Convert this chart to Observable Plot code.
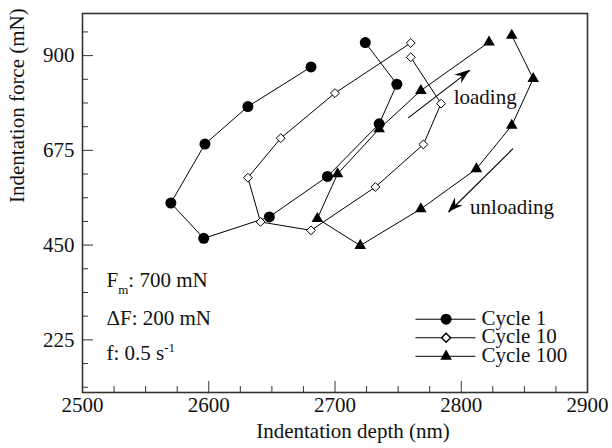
<!DOCTYPE html>
<html><head><meta charset="utf-8">
<script src="https://cdn.jsdelivr.net/npm/d3@7"></script>
<script src="https://cdn.jsdelivr.net/npm/@observablehq/plot@0.6"></script>
<style>body{margin:0;background:#fff}#chart{width:612px;height:448px}</style>
</head><body><div id="chart"></div>
<script>
// Cycle 1 (filled circles)
const cycle1Depth = [2681, 2631, 2597, 2570, 2596, 2648, 2694, 2735, 2749, 2724];
const cycle1Force = [873, 779, 690, 550, 466, 517, 613, 738, 832, 931];
// Cycle 10 (open diamonds)
const cycle10Depth = [2760, 2784, 2770, 2732, 2681, 2641, 2631, 2657, 2700, 2760];
const cycle10Force = [896, 786, 689, 588, 485, 505, 610, 704, 811, 930];
// Cycle 100 (filled triangles)
const cycle100Depth = [2840, 2857, 2840, 2812, 2768, 2720, 2686, 2702, 2735, 2768, 2822];
const cycle100Force = [948, 845, 734, 631, 536, 449, 513, 619, 726, 817, 932];

const seriesNames = ["Cycle 1", "Cycle 10", "Cycle 100"];
const xMajorTicks = [2500, 2600, 2700, 2800, 2900];
const yMajorTicks = [225, 450, 675, 900];

// annotations (data coordinates)
const arrows = [
  {x1: 2758, y1: 752, x2: 2807, y2: 865},
  {x1: 2841, y1: 679, x2: 2790, y2: 528}
];
const directionLabels = [
  {x: 2794, y: 800, text: "loading"},
  {x: 2807, y: 539, text: "unloading"}
];
const paramLabels = [
  {x: 2519, y: 366, text: "Fm: 700 mN"},
  {x: 2519, y: 276, text: "ΔF: 200 mN"},
  {x: 2519, y: 193, text: "f: 0.5 s-1"}
];
const legendY = [274, 230, 186];
const legendX = {x1: 2764, x2: 2811, mark: 2788, text: 2816};

const mk = (name, xs, ys) => xs.map((x, i) => ({cycle: name, depth: x, force: ys[i]}));
const c1 = mk("Cycle 1", cycle1Depth, cycle1Force);
const c10 = mk("Cycle 10", cycle10Depth, cycle10Force);
const c100 = mk("Cycle 100", cycle100Depth, cycle100Force);

const legendLines = seriesNames.flatMap((n, i) => [
  {cycle: n, x: legendX.x1, y: legendY[i]}, {cycle: n, x: legendX.x2, y: legendY[i]}
]);
const legendPts = seriesNames.map((n, i) => ({cycle: n, x: legendX.mark, y: legendY[i]}));

const FONT = "Liberation Serif, Times New Roman, serif";
const axisColor = "#333";
const TXT = 21;

const chart = Plot.plot({
  width: 612, height: 448,
  marginLeft: 82, marginRight: 25, marginTop: 13, marginBottom: 56,
  style: {fontFamily: FONT, fontSize: "21px", color: "#111", background: "#fff"},
  x: {domain: [2500, 2900]},
  y: {domain: [100, 1000]},
  marks: [
    Plot.axisX({ticks: d3.range(2525, 2900, 25).filter(v => v % 100 !== 0), tickSize: -6, text: null, label: null, stroke: axisColor}),
    Plot.axisX({ticks: xMajorTicks, tickSize: -11, text: null, label: null, stroke: axisColor}),
    Plot.axisX({ticks: xMajorTicks, tickSize: 0, tickPadding: 5, tickFormat: d => String(d), label: null, fontSize: 21}),
    Plot.axisY({ticks: d3.range(112.5, 1000, 56.25).filter(v => !yMajorTicks.includes(v)), tickSize: -6, text: null, label: null, stroke: axisColor}),
    Plot.axisY({ticks: yMajorTicks, tickSize: -11, text: null, label: null, stroke: axisColor}),
    Plot.axisY({ticks: yMajorTicks, tickSize: 0, tickPadding: 8, label: null, fontSize: 21}),
    Plot.frame({stroke: axisColor, strokeWidth: 1.6}),
    Plot.text(["Indentation depth (nm)"], {frameAnchor: "bottom", dx: 18, dy: 45, fontSize: TXT}),
    Plot.text(["Indentation force (mN)"], {frameAnchor: "left", dx: -65, rotate: -90, fontSize: TXT}),
    // data lines
    Plot.line(c1, {x: "depth", y: "force", stroke: "#000", strokeWidth: 1}),
    Plot.line(c10, {x: "depth", y: "force", stroke: "#000", strokeWidth: 1}),
    Plot.line(c100, {x: "depth", y: "force", stroke: "#000", strokeWidth: 1}),
    Plot.dot(c1, {x: "depth", y: "force", symbol: "circle", r: 5.5, fill: "#000"}),
    Plot.dot(c10, {x: "depth", y: "force", symbol: "diamond2", r: 4, fill: "#fff", stroke: "#000", strokeWidth: 1}),
    Plot.dot(c100, {x: "depth", y: "force", symbol: "triangle", r: 4.3, fill: "#000"}),
    // arrow shafts
    Plot.link(arrows, {x1: "x1", y1: "y1", x2: "x2", y2: "y2", stroke: "#000", strokeWidth: 1.1}),
    Plot.text(directionLabels, {x: "x", y: "y", text: "text", textAnchor: "start", fontSize: TXT}),
    Plot.text(paramLabels, {x: "x", y: "y", text: "text", textAnchor: "start", fontSize: TXT}),
    // legend
    Plot.line(legendLines, {x: "x", y: "y", z: "cycle", stroke: "#000", strokeWidth: 1}),
    Plot.dot(legendPts.filter(d => d.cycle === "Cycle 1"), {x: "x", y: "y", symbol: "circle", r: 5.5, fill: "#000"}),
    Plot.dot(legendPts.filter(d => d.cycle === "Cycle 10"), {x: "x", y: "y", symbol: "diamond2", r: 4, fill: "#fff", stroke: "#000"}),
    Plot.dot(legendPts.filter(d => d.cycle === "Cycle 100"), {x: "x", y: "y", symbol: "triangle", r: 4.3, fill: "#000"}),
    Plot.text(legendPts, {x: () => legendX.text, y: "y", text: "cycle", textAnchor: "start", fontSize: TXT, lineHeight: 0.85})
  ]
});
document.getElementById("chart").appendChild(chart);

// filled barbed arrowheads, positioned through the chart's own scales
const sx = chart.scale("x"), sy = chart.scale("y");
const heads = d3.select(chart).append("g").attr("fill", "#000");
for (const a of arrows) {
  const X1 = sx.apply(a.x1), Y1 = sy.apply(a.y1), X2 = sx.apply(a.x2), Y2 = sy.apply(a.y2);
  const ang = Math.atan2(Y2 - Y1, X2 - X1);
  const L = 15, W = 5.5, B = 10;
  heads.append("path")
    .attr("d", `M0,0L${-L},${-W}L${-B},0L${-L},${W}Z`)
    .attr("transform", `translate(${X2},${Y2}) rotate(${ang * 180 / Math.PI})`);
}

// sub/superscripts in parameter labels
d3.select(chart).selectAll("text").each(function() {
  const t = this.textContent;
  const sel = d3.select(this);
  if (t === "Fm: 700 mN") {
    sel.text(null);
    sel.append("tspan").text("F");
    sel.append("tspan").attr("font-size", 13).attr("dy", 7).text("m");
    sel.append("tspan").attr("dy", -7).text(": 700 mN");
  } else if (t === "f: 0.5 s-1") {
    sel.text(null);
    sel.append("tspan").text("f: 0.5 s");
    sel.append("tspan").attr("font-size", 13).attr("dy", -8).text("-1");
  }
});
</script>
</body></html>
